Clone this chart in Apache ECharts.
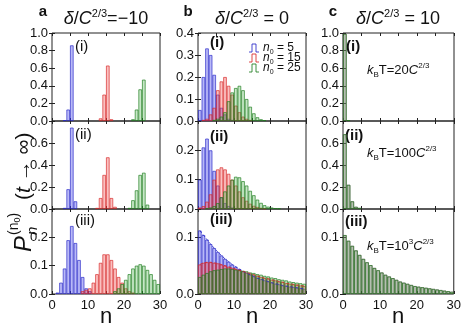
<!DOCTYPE html>
<html>
<head>
<meta charset="utf-8">
<script src="https://cdn.jsdelivr.net/npm/echarts@6/dist/echarts.min.js"></script>
<style>
  html, body { margin: 0; padding: 0; background: #fff; }
  #main { width: 464px; height: 330px; }
</style>
</head>
<body>
<div id="main"></div>
<script>
// histogram bins n = 0..29 (bin n covers [n, n+1])
const bins = ['0','1','2','3','4','5','6','7','8','9','10','11','12','13','14','15','16','17','18','19','20','21','22','23','24','25','26','27','28','29'];
const xTicks = [0, 10, 20, 30];

// column a : delta/C^(2/3) = -10
const a1Blue  = [0,0,0,0.01,0.13,0.86,0,0,0,0, 0,0,0,0,0,0,0,0,0,0, 0,0,0,0,0,0,0,0,0,0];
const a1Red   = [0,0,0,0,0,0,0,0,0,0, 0,0,0,0.03,0.30,0.63,0.02,0,0,0, 0,0,0,0,0,0,0,0,0,0];
const a1Green = [0,0,0,0,0,0,0,0,0,0, 0,0,0,0,0,0,0,0,0,0, 0,0,0.02,0.13,0.36,0.47,0,0,0,0];

const a2Blue  = [0,0,0,0.01,0.18,0.74,0.07,0,0,0, 0,0,0,0,0,0,0,0,0,0, 0,0,0,0,0,0,0,0,0,0];
const a2Red   = [0,0,0,0,0,0,0,0,0,0, 0,0,0.01,0.10,0.31,0.47,0.10,0.02,0,0, 0,0,0,0,0,0,0,0,0,0];
const a2Green = [0,0,0,0,0,0,0,0,0,0, 0,0,0,0,0,0,0,0,0,0, 0,0.01,0.08,0.17,0.31,0.33,0.04,0,0,0];

const a3Blue  = [0,0.005,0.04,0.09,0.19,0.24,0.18,0.12,0.06,0.02, 0.01,0,0,0,0,0,0,0,0,0, 0,0,0,0,0,0,0,0,0,0];
const a3Red   = [0,0,0,0,0,0,0,0,0.01,0.015, 0.02,0.04,0.07,0.11,0.14,0.14,0.12,0.09,0.06,0.04, 0.02,0.01,0.005,0,0,0,0,0,0,0];
const a3Green = [0,0,0,0,0,0,0,0,0,0, 0,0,0,0,0,0,0,0.01,0.02,0.035, 0.05,0.07,0.09,0.10,0.105,0.10,0.085,0.07,0.05,0.035];

// column b : delta/C^(2/3) = 0
const b1Blue  = [0.05,0.20,0.33,0.30,0.21,0.12,0.06,0.03,0.01,0.005, 0,0,0,0,0,0,0,0,0,0, 0,0,0,0,0,0,0,0,0,0];
const b1Red   = [0,0.005,0.01,0.03,0.06,0.14,0.18,0.20,0.16,0.12, 0.07,0.04,0.02,0.01,0.005,0,0,0,0,0, 0,0,0,0,0,0,0,0,0,0];
const b1Green = [0,0,0,0,0.005,0.01,0.02,0.04,0.09,0.13, 0.15,0.16,0.14,0.10,0.065,0.035,0.017,0.008,0.004,0, 0,0,0,0,0,0,0,0,0,0];

const b2Blue  = [0.10,0.21,0.24,0.20,0.13,0.08,0.04,0.02,0.01,0.005, 0,0,0,0,0,0,0,0,0,0, 0,0,0,0,0,0,0,0,0,0];
const b2Red   = [0.005,0.01,0.025,0.05,0.10,0.135,0.142,0.135,0.12,0.10, 0.08,0.06,0.04,0.028,0.018,0.011,0.007,0.004,0.002,0, 0,0,0,0,0,0,0,0,0,0];
const b2Green = [0,0,0.003,0.005,0.01,0.02,0.04,0.06,0.08,0.10, 0.11,0.108,0.095,0.08,0.062,0.047,0.032,0.021,0.013,0.008, 0.005,0.003,0.002,0,0,0,0,0,0,0];

const b3Blue  = [0.112,0.104,0.096,0.088,0.081,0.074,0.068,0.062,0.057,0.052, 0.048,0.044,0.040,0.037,0.034,0.031,0.028,0.026,0.024,0.022, 0.020,0.018,0.017,0.015,0.014,0.013,0.012,0.011,0.010,0.009];
const b3Red   = [0.052,0.055,0.056,0.056,0.055,0.054,0.052,0.050,0.048,0.046, 0.044,0.042,0.040,0.038,0.036,0.034,0.032,0.030,0.028,0.027, 0.025,0.024,0.022,0.021,0.019,0.018,0.017,0.016,0.015,0.014];
const b3Green = [0.030,0.034,0.037,0.040,0.042,0.043,0.044,0.045,0.045,0.044, 0.043,0.042,0.041,0.040,0.038,0.037,0.035,0.034,0.032,0.031, 0.029,0.028,0.026,0.025,0.024,0.022,0.021,0.020,0.019,0.018];

// column c : delta/C^(2/3) = 10 (all n0 give the same distribution)
const c1All = [0.99,0.01,0,0,0,0,0,0,0,0, 0,0,0,0,0,0,0,0,0,0, 0,0,0,0,0,0,0,0,0,0];
const c2All = [0.68,0.22,0.07,0.02,0.01,0,0,0,0,0, 0,0,0,0,0,0,0,0,0,0, 0,0,0,0,0,0,0,0,0,0];
const c3All = [0.104,0.094,0.085,0.077,0.069,0.062,0.056,0.051,0.046,0.042, 0.038,0.034,0.031,0.028,0.025,0.022,0.020,0.018,0.016,0.014, 0.013,0.012,0.011,0.010,0.009,0.008,0.007,0.006,0.005,0.004];

const seriesNames = ['n0 = 5', 'n0 = 15', 'n0 = 25'];
const legendLabels = ['{i|n}{sub|0} = 5', '{i|n}{sub|0} = 15', '{i|n}{sub|0} = 25'];
const rowTags = ['(i)', '(ii)', '(iii)'];
const colTitles = ['{i|δ}/{i|C}{sup|2/3}=−10', '{i|δ}/{i|C}{sup|2/3} = 0', '{i|δ}/{i|C}{sup|2/3} = 10'];
const colLetters = ['a', 'b', 'c'];
const kbtLabels = ['{i|k}{sub|B}T=20{i|C}{sup|2/3}', '{i|k}{sub|B}T=100{i|C}{sup|2/3}', '{i|k}{sub|B}T=10{sup|3}{i|C}{sup|2/3}'];

// y axis ranges per panel [max, interval]
const yRanges = [
  [[1.0, 0.2], [0.8, 0.2], [0.3, 0.1]],
  [[0.4, 0.1], [0.3, 0.1], [0.15, 0.1]],
  [[1.0, 0.2], [0.8, 0.2], [0.15, 0.1]]
];
const panelData = [
  [[a1Blue, a1Red, a1Green], [a2Blue, a2Red, a2Green], [a3Blue, a3Red, a3Green]],
  [[b1Blue, b1Red, b1Green], [b2Blue, b2Red, b2Green], [b3Blue, b3Red, b3Green]],
  [[c1All, c1All, c1All], [c2All, c2All, c2All], [c3All, c3All, c3All]]
];

// layout
const cols = [{ left: 52, width: 108 }, { left: 198, width: 108 }, { left: 343, width: 111 }];
const rows = [{ top: 33, height: 88 }, { top: 121, height: 88 }, { top: 209, height: 85 }];
const tagPos = [
  [[75, 47], [75, 135], [75, 221]],
  [[210, 43], [210, 137], [210, 220]],
  [[346, 47], [345, 136], [345, 222]]
];
const FONT = 'Liberation Sans, Arial, sans-serif';
const fills = ['rgba(70,70,235,0.38)', 'rgba(240,80,80,0.36)', 'rgba(80,180,80,0.32)'];
const edges = ['rgba(40,40,200,0.85)', 'rgba(215,40,40,0.85)', 'rgba(30,125,30,0.85)'];
const fillsC = ['rgba(70,70,235,0.18)', 'rgba(240,80,80,0.18)', 'rgba(80,180,80,0.3)'];
const edgesC = ['rgba(40,40,200,0.3)', 'rgba(215,40,40,0.3)', 'rgba(30,125,30,0.85)'];

const chart = echarts.init(document.getElementById('main'), null, { renderer: 'canvas' });

var grids = [], xAxes = [], yAxes = [], series = [], graphics = [];

for (var c = 0; c < 3; c++) {
  for (var r = 0; r < 3; r++) {
    var k = c * 3 + r;
    var yr = yRanges[c][r];
    grids.push({
      left: cols[c].left, width: cols[c].width, top: rows[r].top, height: rows[r].height,
      show: true, borderColor: '#222', borderWidth: 1, backgroundColor: 'transparent'
    });
    // hidden category axis carrying the bars
    xAxes.push({ type: 'category', gridIndex: k, data: bins, show: false, boundaryGap: true });
    // visible value axis 0..30 for ticks / labels
    xAxes.push({
      type: 'value', gridIndex: k, position: 'bottom', min: 0, max: 30, interval: 5,
      axisLine: { show: false }, splitLine: { show: false },
      axisTick: { show: true, inside: true, length: 3, lineStyle: { color: '#222' } },
      axisLabel: {
        show: r === 2, margin: 5, color: '#111', fontSize: 13, fontFamily: FONT,
        formatter: function (v) { return xTicks.indexOf(v) >= 0 ? String(v) : ''; }
      }
    });
    xAxes.push({
      type: 'value', gridIndex: k, position: 'top', min: 0, max: 30, interval: 5,
      axisLine: { show: false }, splitLine: { show: false }, axisLabel: { show: false },
      axisTick: { show: true, inside: true, length: 3, lineStyle: { color: '#222' } }
    });
    yAxes.push({
      type: 'value', gridIndex: k, position: 'left', min: 0, max: yr[0], interval: yr[1],
      axisLine: { show: false }, splitLine: { show: false },
      axisTick: { show: true, inside: true, length: 3, lineStyle: { color: '#222' } },
      axisLabel: {
        margin: 4, color: '#111', fontSize: 13, fontFamily: FONT, showMaxLabel: r === 0,
        formatter: function (v) { return v.toFixed(1); }
      }
    });
    yAxes.push({
      type: 'value', gridIndex: k, position: 'right', min: 0, max: yr[0], interval: yr[1],
      axisLine: { show: false }, splitLine: { show: false }, axisLabel: { show: false },
      axisTick: { show: true, inside: true, length: 3, lineStyle: { color: '#222' } }
    });
    for (var s = 0; s < 3; s++) {
      series.push({
        type: 'bar', name: seriesNames[s], xAxisIndex: k * 3, yAxisIndex: k * 2,
        data: panelData[c][r][s].map(function (v) { return v > 0 ? v : '-'; }),
        barGap: '-100%', barCategoryGap: '0%', silent: true, animation: false,
        itemStyle: {
          color: c === 2 ? fillsC[s] : fills[s],
          borderColor: c === 2 ? edgesC[s] : edges[s], borderWidth: 0.8
        }
      });
    }
    // dashed guide lines in b(iii)
    if (c === 1 && r === 2) {
      [0, 1].forEach(function (s) {
        series.push({
          type: 'line', xAxisIndex: k * 3, yAxisIndex: k * 2, data: panelData[c][r][s],
          showSymbol: false, silent: true, animation: false, z: 3,
          lineStyle: { color: edges[s], width: 1, type: [3, 2] }
        });
      });
    }
    graphics.push({
      type: 'text', x: tagPos[c][r][0], y: tagPos[c][r][1], silent: true,
      style: {
        text: rowTags[r], fill: '#111', fontSize: 15, fontFamily: FONT,
        fontWeight: c === 0 ? 'normal' : 'bold', align: 'left', verticalAlign: 'middle',
        textAlign: 'left', textVerticalAlign: 'middle'
      }
    });
  }
}

var richBase = function (size) {
  return {
    i: { fontStyle: 'italic', fontSize: size, fontFamily: FONT, fill: '#111', lineHeight: size + 4 },
    sup: { fontSize: Math.round(size * 0.62), fontFamily: FONT, fill: '#111', verticalAlign: 'top', lineHeight: Math.round(size * 0.7) },
    sub: { fontSize: Math.round(size * 0.62), fontFamily: FONT, fill: '#111', verticalAlign: 'bottom', lineHeight: Math.round(size * 0.7) }
  };
};

function richText(x, y, text, size, align, extra) {
  var st = {
    text: text, fill: '#111', fontSize: size, fontFamily: FONT, lineHeight: size + 4,
    rich: richBase(size), align: align, verticalAlign: 'middle',
    textAlign: align, textVerticalAlign: 'middle'
  };
  if (extra) Object.assign(st, extra);
  return { type: 'text', x: x, y: y, silent: true, style: st };
}

// column titles and letters
var titleX = [106, 252, 398];
var letterX = [43, 188, 333];
for (var c2 = 0; c2 < 3; c2++) {
  graphics.push(richText(titleX[c2], 19, colTitles[c2], 18, 'center'));
  graphics.push({
    type: 'text', x: letterX[c2], y: 12, silent: true,
    style: { text: colLetters[c2], fill: '#111', fontSize: 15, fontWeight: 'bold', fontFamily: FONT,
      align: 'center', verticalAlign: 'middle', textAlign: 'center', textVerticalAlign: 'middle' }
  });
  graphics.push(richText(titleX[c2], 317, 'n', 22, 'center'));
}

// k_B T annotations in column c
var kbtY = [70, 153, 246];
for (var r2 = 0; r2 < 3; r2++) {
  graphics.push(richText(367, kbtY[r2], kbtLabels[r2], 13, 'left'));
}

// legend in b(i)
var legY = [48, 58, 68];
for (var s2 = 0; s2 < 3; s2++) {
  var y0 = legY[s2];
  graphics.push({
    type: 'polyline', silent: true,
    shape: { points: [[249, y0 + 4], [252, y0 + 4], [252, y0 - 4], [256, y0 - 4], [256, y0 + 4], [259, y0 + 4]] },
    style: { stroke: edges[s2], fill: null, lineWidth: 1 }
  });
  graphics.push(richText(263, y0, legendLabels[s2], 12, 'left'));
}

// rotated y axis title, reading bottom to top
graphics.push({
  type: 'group', x: 24, y: 252, rotation: Math.PI / 2, silent: true,
  children: [
    { type: 'text', x: 0, y: 0, style: { text: 'P', fill: '#111', fontSize: 24, fontStyle: 'italic', fontFamily: FONT,
        align: 'left', verticalAlign: 'middle', textAlign: 'left', textVerticalAlign: 'middle' } },
    { type: 'text', x: 17, y: -10, style: { text: '(n{sub|0})', fill: '#111', fontSize: 14, fontFamily: FONT,
        rich: { sub: { fontSize: 9, fontFamily: FONT, fill: '#111', verticalAlign: 'bottom', lineHeight: 10 } },
        lineHeight: 16,
        align: 'left', verticalAlign: 'middle', textAlign: 'left', textVerticalAlign: 'middle' } },
    { type: 'text', x: 17, y: 9, style: { text: 'n', fill: '#111', fontSize: 15, fontStyle: 'italic', fontFamily: FONT,
        align: 'left', verticalAlign: 'middle', textAlign: 'left', textVerticalAlign: 'middle' } },
    { type: 'text', x: 52, y: 0, style: { text: '({i|t} → ∞)', fill: '#111', fontSize: 21, fontFamily: FONT, lineHeight: 24,
        rich: { i: { fontStyle: 'italic', fontSize: 21, fontFamily: FONT, fill: '#111', lineHeight: 24 } },
        align: 'left', verticalAlign: 'middle', textAlign: 'left', textVerticalAlign: 'middle' } }
  ]
});

var option = {
  backgroundColor: '#fff',
  animation: false,
  grid: grids,
  xAxis: xAxes,
  yAxis: yAxes,
  series: series,
  graphic: graphics
};
chart.setOption(option);
</script>
</body>
</html>
